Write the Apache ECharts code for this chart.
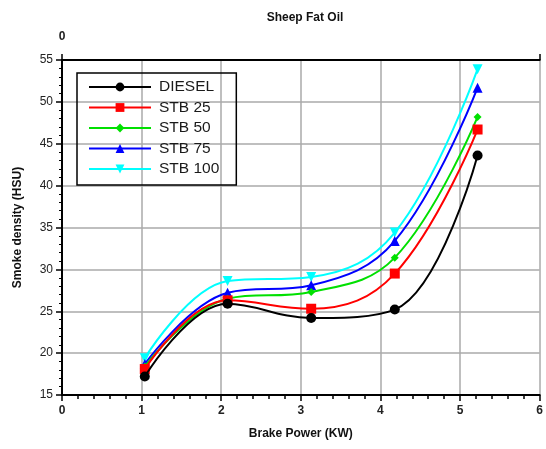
<!DOCTYPE html>
<html>
<head>
<meta charset="utf-8">
<script src="https://cdn.jsdelivr.net/npm/echarts@6/dist/echarts.min.js"></script>
<style>
    html, body { margin: 0; padding: 0; background: #fff; }
    #main { width: 546px; height: 449px; }
</style>
</head>
<body>
<div id="main"></div>
<script>
    // 数据
    var power = [1.04, 2.08, 3.13, 4.18, 5.22];
    var diesel = [17.2, 25.9, 24.2, 25.2, 43.6];
    var stb25 = [18.1, 26.3, 25.3, 29.5, 46.7];
    var stb50 = [18.4, 26.5, 27.3, 31.4, 48.2];
    var stb75 = [18.7, 27.2, 28.1, 33.4, 51.7];
    var stb100 = [19.4, 28.6, 29.1, 34.4, 53.9];
    var names = ['DIESEL', 'STB 25', 'STB 50', 'STB 75', 'STB 100'];
    var colors = ['#000000', '#ff0000', '#00e000', '#0000ff', '#00ffff'];
    var symbols = ['circle', 'rect', 'diamond', 'triangle', 'triangle'];

    function pairs(arr) {
        return power.map(function (x, i) { return [x, arr[i]]; });
    }

    var font = 'Liberation Sans, Arial, sans-serif';
    var myChart = echarts.init(document.getElementById('main'));

    var series = [diesel, stb25, stb50, stb75, stb100].map(function (d, i) {
        return {
            name: names[i],
            type: 'line',
            smooth: 0.4,
            data: pairs(d),
            symbol: symbols[i],
            symbolSize: i == 2 ? 8 : 10,
            symbolRotate: i == 4 ? 180 : 0,
            lineStyle: { color: colors[i], width: 2 },
            itemStyle: { color: colors[i] },
            z: 10 - i
        };
    });

    var option = {
        animation: false,
        title: {
            text: 'Sheep Fat Oil',
            left: 300, top: 7,
            textAlign: 'center',
            textStyle: { fontFamily: font, fontSize: 12, fontWeight: 'bold', color: '#111' }
        },
        legend: {
            orient: 'vertical',
            left: 77, top: 73,
            padding: [6, 17, 8, 11],
            itemWidth: 62, itemHeight: 11, itemGap: 4.5,
            borderColor: '#000', borderWidth: 1.5,
            textStyle: { fontFamily: font, fontSize: 15.5, color: '#1a1a1a', padding: [0, 0, 0, 3] },
            data: names
        },
        grid: { left: 62, right: 4, top: 60, bottom: 54 },
        xAxis: [{
            type: 'value', min: 0, max: 6, interval: 1,
            name: 'Brake Power (KW)', nameLocation: 'middle', nameGap: 33,
            nameTextStyle: { fontFamily: font, fontSize: 12, fontWeight: 'bold', color: '#111' },
            axisLine: { lineStyle: { color: '#000', width: 2 } },
            axisTick: { length: 6, lineStyle: { color: '#000', width: 1.5 } },
            minorTick: { show: true, splitNumber: 5, length: 4, lineStyle: { color: '#000', width: 1.5 } },
            axisLabel: { fontFamily: font, fontSize: 12, fontWeight: 'bold', color: '#222', margin: 10 },
            splitLine: { lineStyle: { color: '#aaa', width: 1.5 } }
        }, {
            type: 'value', min: 0, max: 6, interval: 6, position: 'top',
            axisLine: { lineStyle: { color: '#000', width: 2 } },
            axisTick: { show: true, length: 6, lineStyle: { color: '#000', width: 1.5 } },
            axisLabel: {
                fontFamily: font, fontSize: 12, fontWeight: 'bold', color: '#222', margin: 17,
                formatter: function (v) { return v === 0 ? '0' : ''; }
            },
            splitLine: { show: false }
        }],
        yAxis: [{
            type: 'value', min: 15, max: 55, interval: 5,
            name: 'Smoke density (HSU)', nameLocation: 'middle', nameGap: 38,
            nameTextStyle: { fontFamily: font, fontSize: 12, fontWeight: 'bold', color: '#111' },
            axisLine: { show: true, lineStyle: { color: '#000', width: 2 } },
            axisTick: { show: true, length: 6, lineStyle: { color: '#000', width: 1.5 } },
            minorTick: { show: true, splitNumber: 5, length: 3, lineStyle: { color: '#000', width: 1 } },
            axisLabel: { fontFamily: font, fontSize: 12, color: '#222', margin: 9 },
            splitLine: { lineStyle: { color: '#aaa', width: 1.5 } }
        }, {
            type: 'value', min: 15, max: 55, interval: 5, position: 'right',
            axisLine: { show: true, lineStyle: { color: '#000', width: 2 } },
            axisTick: { show: false },
            axisLabel: { show: false },
            splitLine: { show: false }
        }],
        series: series
    };

    myChart.setOption(option);
</script>
</body>
</html>
